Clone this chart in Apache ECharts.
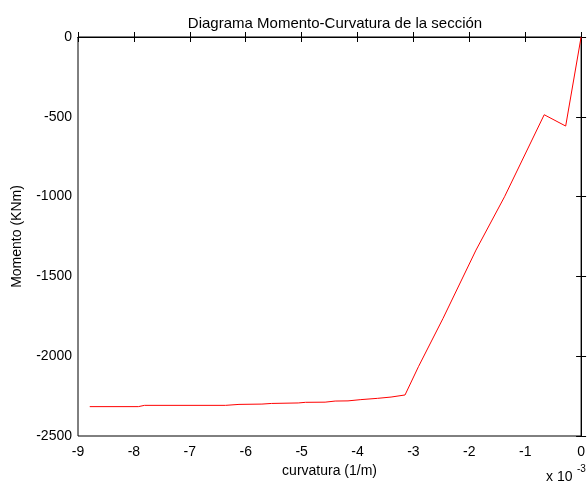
<!DOCTYPE html>
<html style="height:100%;">
<head>
	<meta charset="utf-8" />
	<title>Diagrama Momento-Curvatura</title>
	<script type="text/javascript" src="https://cdn.jsdelivr.net/npm/echarts@6/dist/echarts.min.js"></script>
</head>
<body style="margin:0;padding:0;height:100%;background:#fff;">
	<div id="chart" style="width:588px;height:483px;"></div>
	<script type="text/javascript">
		// curvatura (x 10^-3 1/m) y momento (KNm)
		const curvatura = [-8.79, -7.92, -7.81, -6.36, -6.12, -5.71, -5.54, -5.06, -4.93, -4.58, -4.40, -4.17,
			-3.94, -3.64, -3.40, -3.15, -2.91, -2.47, -1.88, -1.37, -0.66, -0.276, 0];
		const momento = [-2316, -2316, -2308, -2308, -2302, -2300, -2296, -2293, -2289, -2288, -2281, -2280,
			-2272, -2264, -2256, -2243, -2066, -1763, -1335, -1001, -487, -558, 0];
		const xTicks = [-9, -8, -7, -6, -5, -4, -3, -2, -1, 0];
		const yTicks = [-2500, -2000, -1500, -1000, -500, 0];

		const font = "'Liberation Sans', Arial, sans-serif";
		const chart = echarts.init(document.getElementById("chart"));

		const pts = curvatura.map((c, i) => [c, momento[i]]);

		const axisCommon = {
			axisLine: { lineStyle: { color: '#000', width: 1 } },
			axisTick: { inside: true, length: 5, lineStyle: { color: '#000' } },
			splitLine: { show: false }
		};
		const txt = { color: '#000', fontSize: 14, fontFamily: font };

		chart.setOption({
			animation: false,
			title: {
				text: 'Diagrama Momento-Curvatura de la sección',
				left: 330, top: 11, textAlign: 'center',
				textStyle: { color: '#000', fontSize: 15, fontWeight: 'normal', fontFamily: font }
			},
			grid: { left: 78, right: 4, top: 37, bottom: 47, show: true, borderColor: '#000', borderWidth: 1 },
			xAxis: [
				Object.assign({}, axisCommon, {
					type: 'value', min: xTicks[0], max: xTicks[xTicks.length - 1], interval: 1,
					position: 'bottom',
					name: 'curvatura (1/m)', nameLocation: 'middle', nameGap: 26,
					nameTextStyle: txt,
					axisLabel: Object.assign({ margin: 9 }, txt)
				}),
				Object.assign({}, axisCommon, {
					type: 'value', min: xTicks[0], max: xTicks[xTicks.length - 1], interval: 1,
					position: 'top', axisLabel: { show: false }
				})
			],
			yAxis: [
				Object.assign({}, axisCommon, {
					type: 'value', min: yTicks[0], max: yTicks[yTicks.length - 1], interval: 500,
					position: 'left',
					name: 'Momento (KNm)', nameLocation: 'middle', nameGap: 54,
					nameTextStyle: txt,
					axisLabel: Object.assign({ margin: 6, formatter: v => String(v) }, txt)
				}),
				Object.assign({}, axisCommon, {
					type: 'value', min: yTicks[0], max: yTicks[yTicks.length - 1], interval: 500,
					position: 'right', axisLabel: { show: false }
				})
			],
			graphic: [
				{ type: 'text', left: 546, top: 470, style: { text: 'x 10', fontSize: 14, fontFamily: font, fill: '#000' } },
				{ type: 'text', left: 577, top: 464, style: { text: '-3', fontSize: 10, fontFamily: font, fill: '#000' } }
			],
			series: [{
				type: 'line',
				data: pts,
				symbol: 'none',
				lineStyle: { color: '#ff0000', width: 1 },
				xAxisIndex: 0, yAxisIndex: 0
			}]
		});
	</script>
</body>
</html>
